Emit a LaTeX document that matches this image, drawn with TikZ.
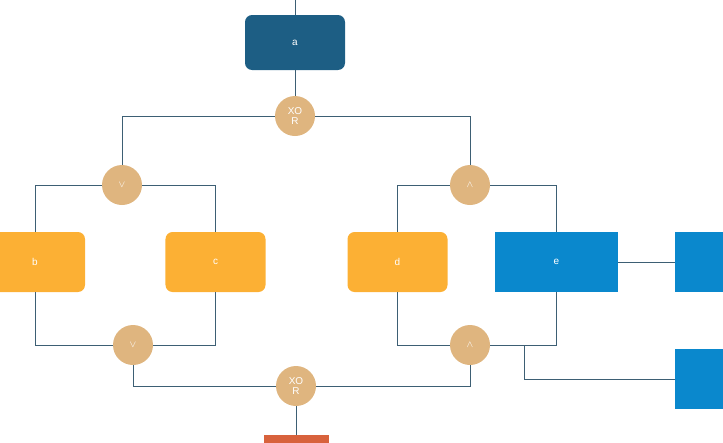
\documentclass[tikz,border=0pt]{standalone}
\usepackage{fontspec}
\setmainfont{Liberation Sans}
\usepackage{xcolor}
\usetikzlibrary{shapes,positioning,calc}

\definecolor{topblue}{HTML}{1D5E84}
\definecolor{boxorange}{HTML}{FCB034}
\definecolor{gatetan}{HTML}{DFB57F}
\definecolor{boxblue}{HTML}{0A88CD}
\definecolor{wire}{HTML}{3D5F74}
\definecolor{barred}{HTML}{D8623C}

\tikzset{
    leaf/.style={draw=none, rectangle, rounded corners=6pt, fill=boxorange, text=white, minimum width=3cm, minimum height=1.8cm, font=\fontsize{8.5}{9}\selectfont},
    gate/.style={draw=none, circle, fill=gatetan, text=white, minimum size=1.2cm, inner sep=0pt, align=center, font=\fontsize{8.5}{9}\selectfont},
    plainbox/.style={draw=none, rectangle, fill=boxblue, text=white, minimum width=3.7cm, minimum height=1.8cm, font=\fontsize{8.5}{9}\selectfont},
    wireline/.style={draw=wire, line width=0.6pt}
}

\begin{document}
\begin{tikzpicture}[x=0.03cm, y=-0.03cm]
    \useasboundingbox (0,0) rectangle (723,442);
    % top event and gates
    \coordinate (top) at (295,0);
    \node[leaf, fill=topblue, minimum width=3cm, minimum height=1.65cm] (a) at (295,42.5) {a};
    \node[gate] (x1) at (295,116) {XO\\R};
    \node[gate] (o1) at (122,185) {$\vee$};
    \node[gate] (n1) at (470,185) {$\wedge$};
    % basic events
    \node[leaf] (b) at (35,262) {b};
    \node[leaf] (c) at (215.5,262) {c};
    \node[leaf] (d) at (397.5,262) {d};
    \node[plainbox] (e) at (556.5,262) {e};
    \node[plainbox, minimum width=2cm, anchor=west] (f1) at (675,262) {};
    \node[plainbox, minimum width=2cm, anchor=west] (f2) at (675,379) {};
    % lower gates
    \node[gate] (o2) at (133,345) {$\vee$};
    \node[gate] (n2) at (470,345) {$\wedge$};
    \node[gate] (x2) at (296,386) {XO\\R};
    \node[rectangle, fill=barred, minimum width=1.95cm, minimum height=0.6cm, anchor=north] (out) at (296,435) {};
    \coordinate (br) at (524,345);

    \draw[wireline] (top) -- (a);
    \draw[wireline] (a) -- (x1);
    \draw[wireline] (x1) -| (o1);
    \draw[wireline] (x1) -| (n1);
    \draw[wireline] (o1) -| (b);
    \draw[wireline] (o1) -| (c);
    \draw[wireline] (n1) -| (d);
    \draw[wireline] (n1) -| (e);
    \draw[wireline] (b) |- (o2);
    \draw[wireline] (c) |- (o2);
    \draw[wireline] (d) |- (n2);
    \draw[wireline] (e) |- (n2);
    \draw[wireline] (o2) |- (x2);
    \draw[wireline] (n2) |- (x2);
    \draw[wireline] (x2) -- (out);
    \draw[wireline] (e) -- (f1);
    \draw[wireline] (br) |- (f2);
\end{tikzpicture}
\end{document}
